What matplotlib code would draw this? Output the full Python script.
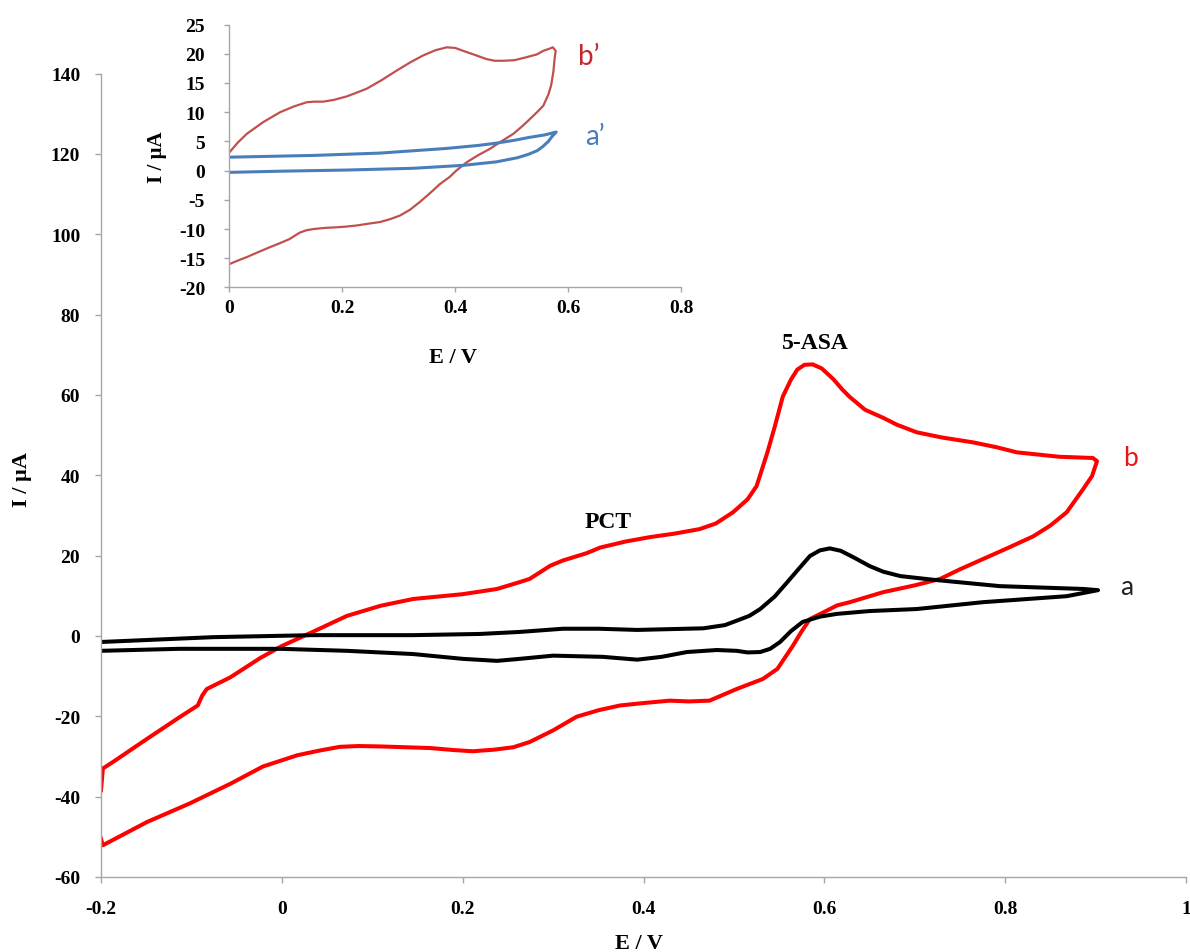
import matplotlib
matplotlib.use("Agg")
import matplotlib.pyplot as plt
import numpy as np

plt.rcParams['font.family'] = ['Liberation Serif', 'DejaVu Serif']
plt.rcParams['font.weight'] = 'bold'
plt.rcParams['axes.unicode_minus'] = False

# main plot, curve b (red loop), E / V and I / uA
E_b = [-0.2, -0.198, -0.187, -0.149, -0.113, -0.093, -0.088, -0.083, -0.057, -0.024,
       0.0, 0.034, 0.072, 0.109, 0.145, 0.2, 0.238, 0.263, 0.274, 0.297,
       0.311, 0.337, 0.352, 0.38, 0.407, 0.435, 0.462, 0.48, 0.499, 0.515,
       0.525, 0.537, 0.545, 0.554, 0.563, 0.57, 0.578, 0.587, 0.597, 0.61,
       0.62, 0.628, 0.645, 0.665, 0.68, 0.702, 0.73, 0.764, 0.79, 0.813,
       0.86, 0.897, 0.9015, 0.9, 0.896, 0.886, 0.868, 0.85, 0.831, 0.8,
       0.775, 0.75, 0.728, 0.7, 0.665, 0.628, 0.614, 0.6, 0.584, 0.575,
       0.565, 0.548, 0.532, 0.503, 0.473, 0.45, 0.429, 0.4, 0.374, 0.35,
       0.326, 0.3, 0.274, 0.256, 0.235, 0.211, 0.19, 0.164, 0.109, 0.085,
       0.064, 0.04, 0.017, -0.021, -0.057, -0.102, -0.149, -0.198, -0.2]
I_b = [-38.4, -33.0, -31.4, -25.6, -20.2, -17.3, -14.8, -13.2, -10.3, -5.5,
       -2.5, 1.0, 5.0, 7.5, 9.2, 10.4, 11.7, 13.4, 14.2, 17.5,
       18.8, 20.6, 22.0, 23.5, 24.6, 25.5, 26.6, 28.0, 30.8, 34.0,
       37.3, 45.7, 52.0, 59.6, 63.8, 66.3, 67.5, 67.6, 66.6, 63.9,
       61.3, 59.5, 56.3, 54.3, 52.6, 50.7, 49.4, 48.2, 47.0, 45.7,
       44.6, 44.3, 43.5, 42.5, 39.8, 36.5, 30.8, 27.5, 24.8, 21.6,
       19.1, 16.6, 14.2, 12.6, 10.9, 8.4, 7.6, 6.0, 4.2, 1.2,
       -2.5, -8.2, -10.7, -13.2, -16.1, -16.3, -16.1, -16.7, -17.3, -18.5,
       -20.1, -23.5, -26.4, -27.7, -28.3, -28.7, -28.4, -27.9, -27.5, -27.4,
       -27.6, -28.6, -29.7, -32.5, -36.8, -41.7, -46.3, -52.1, -50.5]

# main plot, curve a (black loop)
E_a = [-0.2, -0.076, 0.034, 0.145, 0.219, 0.263, 0.311, 0.35, 0.393, 0.466,
       0.49, 0.503, 0.517, 0.529, 0.545, 0.559, 0.572, 0.584, 0.595, 0.606,
       0.618, 0.632, 0.65, 0.665, 0.684, 0.72, 0.794, 0.886, 0.9026, 0.868,
       0.775, 0.702, 0.65, 0.614, 0.595, 0.576, 0.563, 0.551, 0.54, 0.529,
       0.515, 0.503, 0.481, 0.448, 0.42, 0.393, 0.355, 0.3, 0.263, 0.238,
       0.2, 0.145, 0.072, -0.002, -0.113, -0.2]
I_a = [-1.5, -0.3, 0.2, 0.2, 0.5, 1.0, 1.8, 1.8, 1.5, 1.9,
       2.7, 3.8, 5.0, 6.7, 9.8, 13.4, 16.8, 19.9, 21.3, 21.8,
       21.2, 19.6, 17.4, 16.0, 14.9, 14.0, 12.4, 11.7, 11.4, 9.9,
       8.4, 6.7, 6.2, 5.5, 4.8, 3.5, 1.2, -1.5, -3.2, -4.0,
       -4.1, -3.7, -3.5, -4.0, -5.2, -5.9, -5.2, -4.9, -5.7, -6.2,
       -5.7, -4.5, -3.7, -3.2, -3.2, -3.7]

# inset, curve b'
E_bp = [0.0, 0.015, 0.031, 0.06, 0.09, 0.115, 0.137, 0.15, 0.166, 0.185,
        0.208, 0.243, 0.27, 0.296, 0.32, 0.343, 0.365, 0.385, 0.4, 0.414,
        0.435, 0.455, 0.47, 0.485, 0.505, 0.526, 0.545, 0.556, 0.565, 0.573,
        0.578, 0.576, 0.574, 0.570, 0.565, 0.556, 0.545, 0.532, 0.52, 0.503,
        0.48, 0.461, 0.44, 0.42, 0.402, 0.39, 0.373, 0.355, 0.337, 0.32,
        0.302, 0.285, 0.267, 0.245, 0.225, 0.205, 0.19, 0.17, 0.149, 0.137,
        0.125, 0.115, 0.107, 0.09, 0.072, 0.05, 0.031, 0.015, 0.0]
I_bp = [3.1, 4.8, 6.3, 8.3, 10.0, 11.0, 11.7, 11.8, 11.8, 12.1,
        12.7, 14.0, 15.5, 17.1, 18.5, 19.7, 20.6, 21.1, 21.0, 20.5,
        19.8, 19.1, 18.8, 18.8, 18.9, 19.4, 19.9, 20.5, 20.8, 21.1,
        20.5, 19.1, 17.0, 14.6, 13.0, 11.1, 10.0, 8.8, 7.7, 6.3,
        4.9, 3.7, 2.6, 1.4, 0.0, -1.1, -2.3, -3.9, -5.4, -6.7,
        -7.7, -8.3, -8.8, -9.1, -9.4, -9.6, -9.7, -9.8, -10.0, -10.2,
        -10.6, -11.2, -11.7, -12.4, -13.1, -14.0, -14.8, -15.4, -16.0]

# inset, curve a'
E_ap = [0.0, 0.149, 0.267, 0.385, 0.44, 0.473, 0.505, 0.532, 0.558, 0.579,
        0.572, 0.565, 0.555, 0.545, 0.53, 0.51, 0.473, 0.414, 0.326, 0.208,
        0.09, 0.0]
I_ap = [2.3, 2.6, 3.0, 3.8, 4.3, 4.7, 5.2, 5.7, 6.1, 6.6,
        5.9, 5.0, 4.1, 3.4, 2.8, 2.2, 1.5, 0.9, 0.4, 0.1,
        -0.1, -0.3]

main_xticks = [-0.2, 0, 0.2, 0.4, 0.6, 0.8, 1]
main_xticklabels = ['-0.2', '0', '0.2', '0.4', '0.6', '0.8', '1']
main_yticks = list(range(-60, 141, 20))
ins_xticks = [0, 0.2, 0.4, 0.6, 0.8]
ins_xticklabels = ['0', '0.2', '0.4', '0.6', '0.8']
ins_yticks = list(range(-20, 26, 5))

gray = '#A6A6A6'

fig = plt.figure(figsize=(11.9, 9.53), dpi=100)

ax = fig.add_axes([0.0849, 0.0787, 0.9118, 0.8431])
ax.plot(E_b, I_b, color='#FF0000', lw=2.9, solid_joinstyle='round')
ax.plot(E_a, I_a, color='black', lw=2.9, solid_joinstyle='round')
ax.set_xlim(-0.2, 1)
ax.set_ylim(-60, 140)
ax.set_xticks(main_xticks)
ax.set_xticklabels(main_xticklabels)
ax.set_yticks(main_yticks)
for s in ['top', 'right']:
    ax.spines[s].set_visible(False)
for s in ['left', 'bottom']:
    ax.spines[s].set_color(gray)
    ax.spines[s].set_linewidth(1.0)
ax.tick_params(axis='both', colors=gray, labelcolor='black', length=4.5, width=1.0, labelsize=14)
ax.tick_params(axis='y', pad=10.5)
ax.tick_params(axis='x', pad=12)
ax.set_xlabel('E / V', fontsize=16, fontweight='bold')
ax.set_ylabel('I / µA', fontsize=16, fontweight='bold')
ax.xaxis.set_label_coords(0.496, -0.082)
ax.xaxis.label.set_verticalalignment('center')
ax.yaxis.set_label_coords(-0.0724, 0.4956)
ax.yaxis.label.set_verticalalignment('center')

ax.text(0.361, 28.6, 'PCT', fontsize=17, fontweight='bold', ha='center', va='center')
ax.text(0.590, 73.0, '5-ASA', fontsize=17, fontweight='bold', ha='center', va='center')
ax.text(0.930, 44.5, 'b', fontsize=19, color='#E8161B', family=['Lato', 'DejaVu Sans'],
        fontweight='normal', ha='left', va='center')
ax.text(0.927, 12.4, 'a', fontsize=19, color='#222222', family=['Lato', 'DejaVu Sans'],
        fontweight='normal', ha='left', va='center')

# inset
ins = fig.add_axes([0.1927, 0.6973, 0.3796, 0.2759])
ins.plot(E_bp, I_bp, color='#C0504D', lw=1.6, solid_joinstyle='round')
ins.plot(E_ap, I_ap, color='#4A7EBB', lw=2.2, solid_joinstyle='round')
ins.set_xlim(0, 0.8)
ins.set_ylim(-20, 25)
ins.set_xticks(ins_xticks)
ins.set_xticklabels(ins_xticklabels)
ins.set_yticks(ins_yticks)
for s in ['top', 'right']:
    ins.spines[s].set_visible(False)
for s in ['left', 'bottom']:
    ins.spines[s].set_color(gray)
    ins.spines[s].set_linewidth(1.0)
ins.tick_params(axis='both', colors=gray, labelcolor='black', length=3.5, width=1.0, labelsize=14)
ins.tick_params(axis='y', pad=14)
ins.tick_params(axis='x', pad=5)
ins.set_xlabel('E / V', fontsize=16, fontweight='bold')
ins.set_ylabel('I / µA', fontsize=15, fontweight='bold')
ins.xaxis.set_label_coords(0.495, -0.264)
ins.xaxis.label.set_verticalalignment('center')
ins.yaxis.set_label_coords(-0.160, 0.5)
ins.yaxis.label.set_verticalalignment('center')

ins.text(0.617, 19.6, 'b’', fontsize=20, color='#C0282D', family=['Lato', 'DejaVu Sans'],
         fontweight='normal', ha='left', va='center')
ins.text(0.630, 5.9, 'a’', fontsize=20, color='#4A7EBB', family=['Lato', 'DejaVu Sans'],
         fontweight='normal', ha='left', va='center')

fig.savefig('out.png', dpi=100)
